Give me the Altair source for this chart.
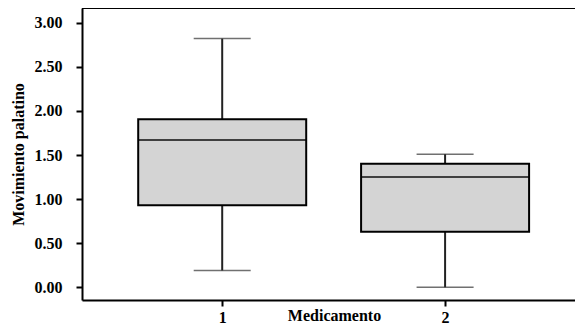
import altair as alt
import pandas as pd

medicamento = [1, 2]
whisker_low = [0.19, 0.0]
q1 = [0.93, 0.63]
median = [1.67, 1.25]
q3 = [1.905, 1.40]
whisker_high = [2.82, 1.51]

df = pd.DataFrame({
    "Medicamento": medicamento,
    "lo": whisker_low,
    "q1": q1,
    "med": median,
    "q3": q3,
    "hi": whisker_high,
})

FONT = "Liberation Serif"
W, H = 493, 292

xscale = alt.Scale(domain=[0.3934, 2.5604], nice=False, zero=False)
yscale = alt.Scale(domain=[-0.144, 3.167], nice=False, zero=False)

xaxis = alt.Axis(
    values=[1, 2], format="d", title="Medicamento", grid=False,
    tickSize=6, tickWidth=2, tickColor="black", domainColor="black", domainWidth=2,
    labelPadding=3, labelFont=FONT, labelFontSize=16, labelFontWeight="bold", labelColor="black",
    titleFont=FONT, titleFontSize=16, titleFontWeight="bold", titleColor="black",
    titleX=252, titleY=20, titleBaseline="alphabetic", titleAnchor="start", titleAlign="center",
)
yaxis = alt.Axis(
    values=[0, 0.5, 1, 1.5, 2, 2.5, 3], format=".2f", title="Movimiento palatino", grid=False,
    tickSize=6, tickWidth=2, tickColor="black", domainColor="black", domainWidth=2,
    labelPadding=14, labelFont=FONT, labelFontSize=16, labelFontWeight="bold", labelColor="black",
    titleFont=FONT, titleFontSize=16, titleFontWeight="bold", titleColor="black",
    titleX=-59, titleY=146, titleBaseline="alphabetic", titleAngle=-90, titleAlign="center",
)

base = alt.Chart(df)

whisker = base.mark_rule(color="#222222", strokeWidth=2).encode(
    x=alt.X("Medicamento:Q", scale=xscale, axis=xaxis),
    y=alt.Y("lo:Q", scale=yscale, axis=yaxis),
    y2="hi:Q",
)
caps_lo = base.mark_tick(orient="horizontal", size=57, thickness=1.5, color="#333333").encode(
    x="Medicamento:Q", y="lo:Q"
)
caps_hi = base.mark_tick(orient="horizontal", size=57, thickness=1.5, color="#333333").encode(
    x="Medicamento:Q", y="hi:Q"
)
box = base.mark_bar(size=168, color="#d4d4d4", stroke="black", strokeWidth=2).encode(
    x="Medicamento:Q", y="q1:Q", y2="q3:Q"
)
med = base.mark_tick(orient="horizontal", size=168, thickness=2, color="black").encode(
    x="Medicamento:Q", y="med:Q"
)
top = alt.Chart(pd.DataFrame({"a": [0]})).mark_rule(color="black", strokeWidth=2).encode(
    x=alt.value(0), x2=alt.value(W), y=alt.value(0)
)

chart = alt.layer(whisker, caps_lo, caps_hi, box, med, top).properties(
    width=W, height=H,
    autosize=alt.AutoSizeParams(type="none"),
    padding={"left": 74, "top": 0, "right": 0, "bottom": 24},
).configure_view(stroke=None).configure(background="white")

chart.save("out.html", embed_options={"renderer": "svg", "actions": False})
